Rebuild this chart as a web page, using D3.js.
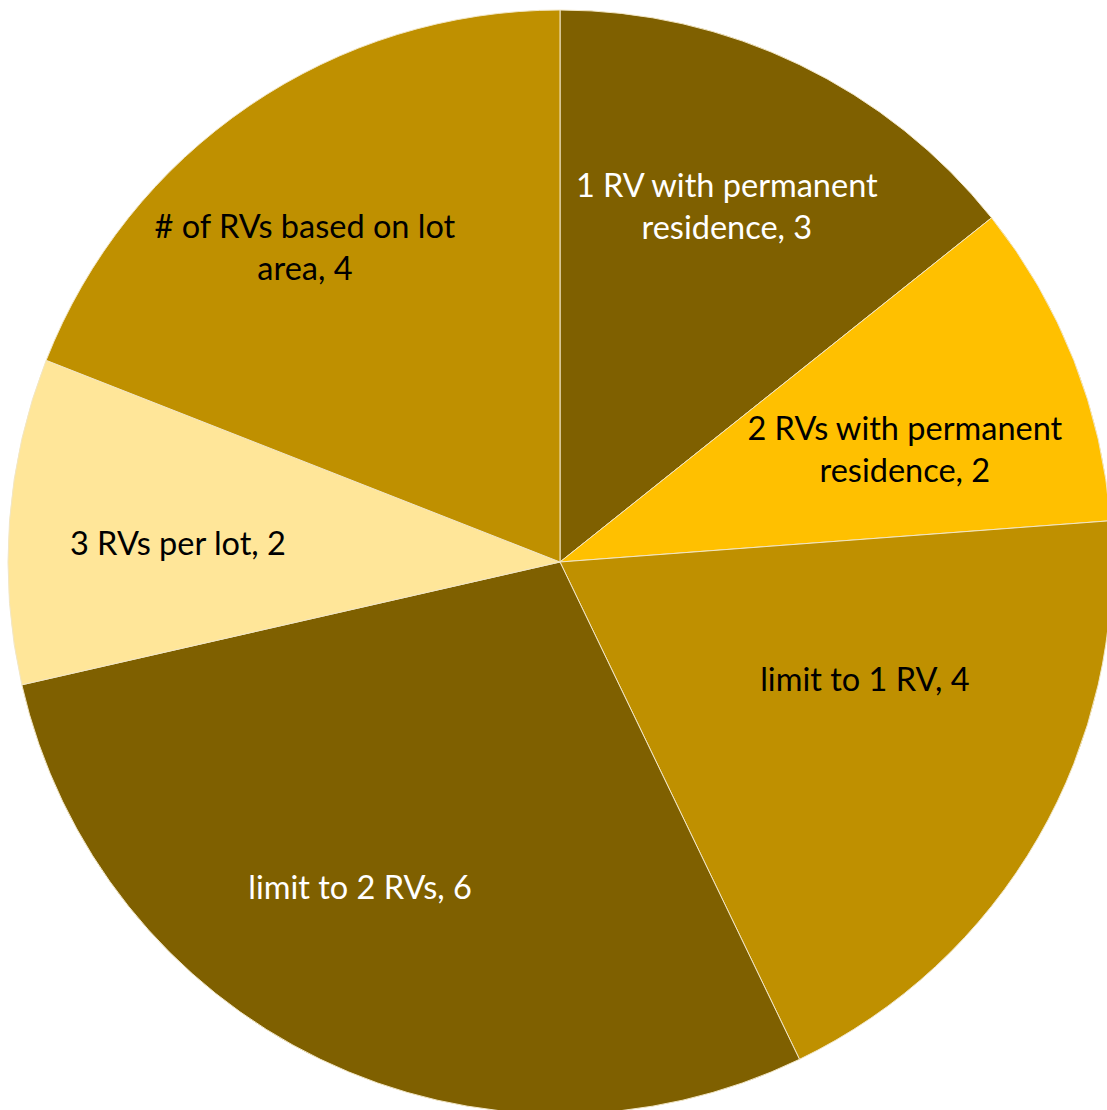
<!DOCTYPE html>
<html>
<head>
<meta charset="utf-8">
<script src="https://cdn.jsdelivr.net/npm/d3@7"></script>
<style>
  html, body { margin: 0; padding: 0; background: #ffffff; overflow: hidden; }
  svg { display: block; }
</style>
</head>
<body>
<svg id="chart" width="1107" height="1110"></svg>
<script>
const categories = [
  "1 RV with permanent residence",
  "2 RVs with permanent residence",
  "limit to 1 RV",
  "limit to 2 RVs",
  "3 RVs per lot",
  "# of RVs based on lot area"
];
const values = [3, 2, 4, 6, 2, 4];
const colors = ["#7F6000", "#FFC000", "#BF9000", "#7F6000", "#FFE699", "#BF9000"];
const labelColors = ["#FFFFFF", "#000000", "#000000", "#FFFFFF", "#000000", "#000000"];
// label placement tweaks (as Excel "best fit" does): angle shift in degrees, radius fraction
const labelAngleShift = [-0.6, 3.4, -8.9, 5.8, -1.5, -4.8];
const labelRadiusFrac = [0.712, 0.657, 0.592, 0.693, 0.693, 0.733];

const width = 1107, height = 1110;
const cx = 560, cy = 562, R = 552;
const fontSize = 32.5, lineH = 42, wrapWidth = 340;

const svg = d3.select("#chart");
const g = svg.append("g").attr("transform", `translate(${cx},${cy})`);

const data = categories.map((c, i) => ({ cat: c, value: values[i], color: colors[i], lc: labelColors[i], i }));
const pie = d3.pie().value(d => d.value).sort(null);
const arcs = pie(data);
const arc = d3.arc().innerRadius(0).outerRadius(R);

g.selectAll("path.slice")
  .data(arcs)
  .join("path")
  .attr("class", "slice")
  .attr("d", arc)
  .attr("fill", d => d.data.color)
  .attr("stroke", "#f2e6c4")
  .attr("stroke-width", 1);

const measure = svg.append("text")
  .attr("font-family", "Lato, 'Open Sans', sans-serif")
  .attr("font-size", fontSize)
  .attr("visibility", "hidden");
function wrap(str) {
  const words = str.split(" ");
  const lines = [];
  let cur = "";
  words.forEach(w => {
    const test = cur ? cur + " " + w : w;
    measure.text(test);
    if (measure.node().getComputedTextLength() > wrapWidth && cur) {
      lines.push(cur);
      cur = w;
    } else cur = test;
  });
  if (cur) lines.push(cur);
  return lines;
}

g.selectAll("text.lbl")
  .data(arcs)
  .join("text")
  .attr("class", "lbl")
  .attr("font-family", "Lato, 'Open Sans', sans-serif")
  .attr("font-size", fontSize)
  .attr("text-anchor", "middle")
  .attr("fill", d => d.data.lc)
  .each(function(d) {
    const i = d.data.i;
    const mid = (d.startAngle + d.endAngle) / 2 + labelAngleShift[i] * Math.PI / 180;
    const r = R * labelRadiusFrac[i];
    const lArc = d3.arc().innerRadius(r).outerRadius(r);
    const [x, y] = lArc.centroid({ startAngle: mid, endAngle: mid });
    const lines = wrap(d.data.cat + ", " + d.data.value);
    const t = d3.select(this);
    const y0 = y - (lines.length - 1) * lineH / 2;
    lines.forEach((ln, k) => {
      t.append("tspan")
        .attr("x", x)
        .attr("y", y0 + k * lineH)
        .attr("dy", "0.35em")
        .text(ln);
    });
  });
measure.remove();
</script>
</body>
</html>
